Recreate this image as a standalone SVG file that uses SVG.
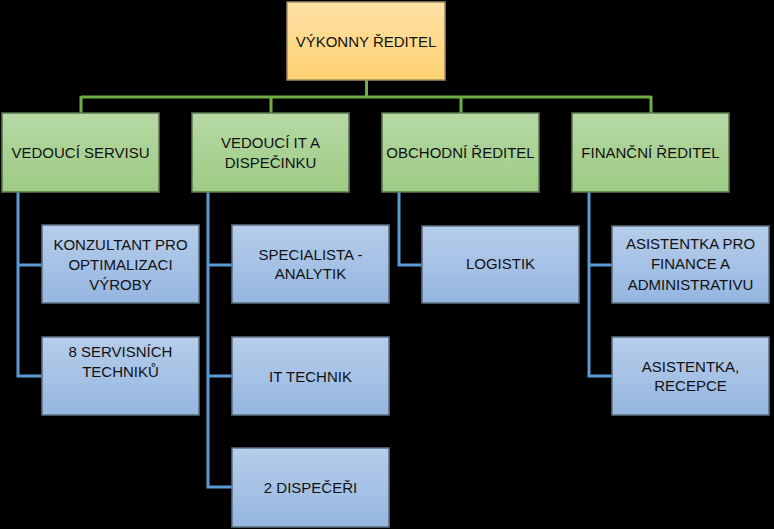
<svg xmlns="http://www.w3.org/2000/svg" width="774" height="529" viewBox="0 0 774 529">
<defs>
<linearGradient id="gO" x1="0" y1="0" x2="0" y2="1"><stop offset="0" stop-color="#FFE1A6"/><stop offset="1" stop-color="#FFD272"/></linearGradient>
<linearGradient id="gG" x1="0" y1="0" x2="0" y2="1"><stop offset="0" stop-color="#B7D9A5"/><stop offset="1" stop-color="#9DCB83"/></linearGradient>
<linearGradient id="gB" x1="0" y1="0" x2="0" y2="1"><stop offset="0" stop-color="#B6CDEA"/><stop offset="1" stop-color="#95B6E1"/></linearGradient>
</defs>
<style>
.o{fill:url(#gO);stroke:#A08C64;stroke-width:1.5}
.g{fill:url(#gG);stroke:#5E7550;stroke-width:1.5}
.b{fill:url(#gB);stroke:#5F6F80;stroke-width:1.5}
.t{font-family:"Liberation Sans",Arial,sans-serif;font-size:15px;fill:#111;text-anchor:middle}
.cg{fill:none;stroke:#70AD47;stroke-width:3}
.cb{fill:none;stroke:#5B9BD5;stroke-width:3}
</style>
<rect width="774" height="529" fill="#000"/>
<g id="connectors">
<path class="cg" d="M366.5,80 V97 M81,97 H651.5 M81,96 V113 M271,96 V113 M461,96 V113 M651,96 V113"/>
<path class="cb" d="M18,192 V376 H42 M18,265 H42"/>
<path class="cb" d="M208,192 V487 H232 M208,265 H232 M208,376 H232"/>
<path class="cb" d="M399,192 V265 H422"/>
<path class="cb" d="M589,192 V376 H612 M589,265 H612"/>
</g>
<g id="vykonny"><rect class="o" x="287" y="2" width="158" height="78"/><text class="t" x="366" y="47">VÝKONNY ŘEDITEL</text></g>
<g id="servis"><rect class="g" x="2" y="113" width="157" height="79"/><text class="t" x="80.5" y="158">VEDOUCÍ SERVISU</text></g>
<g id="it"><rect class="g" x="192" y="113" width="157" height="79"/><text class="t" x="270.5" y="148">VEDOUCÍ IT A</text><text class="t" x="270.5" y="168">DISPEČINKU</text></g>
<g id="obchod"><rect class="g" x="382" y="113" width="157" height="79"/><text class="t" x="460.5" y="158">OBCHODNÍ ŘEDITEL</text></g>
<g id="financ"><rect class="g" x="572" y="113" width="157" height="79"/><text class="t" x="650.5" y="158">FINANČNÍ ŘEDITEL</text></g>
<g id="konzultant"><rect class="b" x="42" y="225" width="157" height="78"/><text class="t" x="120.5" y="250">KONZULTANT PRO</text><text class="t" x="120.5" y="270">OPTIMALIZACI</text><text class="t" x="120.5" y="290">VÝROBY</text></g>
<g id="servisni"><rect class="b" x="42" y="337" width="157" height="78"/><text class="t" x="120.5" y="357">8 SERVISNÍCH</text><text class="t" x="120.5" y="377">TECHNIKŮ</text></g>
<g id="specialista"><rect class="b" x="232" y="225" width="157" height="78"/><text class="t" x="310.5" y="260">SPECIALISTA -</text><text class="t" x="310.5" y="279">ANALYTIK</text></g>
<g id="ittechnik"><rect class="b" x="232" y="337" width="157" height="78"/><text class="t" x="310.5" y="382">IT TECHNIK</text></g>
<g id="dispeceri"><rect class="b" x="232" y="448" width="157" height="79"/><text class="t" x="310.5" y="493">2 DISPEČEŘI</text></g>
<g id="logistik"><rect class="b" x="422" y="226" width="157" height="77"/><text class="t" x="500.5" y="269">LOGISTIK</text></g>
<g id="asist1"><rect class="b" x="612" y="226" width="157" height="77"/><text class="t" x="690.5" y="249">ASISTENTKA PRO</text><text class="t" x="690.5" y="269">FINANCE A</text><text class="t" x="690.5" y="290">ADMINISTRATIVU</text></g>
<g id="asist2"><rect class="b" x="612" y="337" width="157" height="78"/><text class="t" x="690.5" y="372">ASISTENTKA,</text><text class="t" x="690.5" y="391">RECEPCE</text></g>
</svg>
